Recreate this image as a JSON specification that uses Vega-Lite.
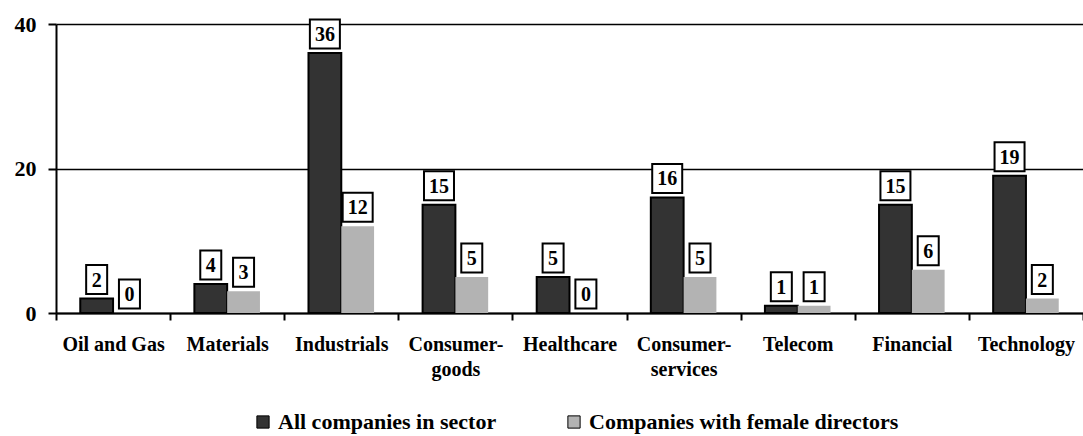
{
  "$schema": "https://vega.github.io/schema/vega-lite/v6.json",
  "width": 1027,
  "height": 289,
  "autosize": {"type": "none"},
  "padding": {"left": 56, "top": 24, "right": 0, "bottom": 123},
  "config": {
    "view": {"stroke": null},
    "font": "Liberation Serif",
    "axis": {"labelFont": "Liberation Serif", "labelFontWeight": "bold", "labelColor": "black", "title": null}
  },
  "data": {
    "values": [
      {"sector": "Oil and Gas", "series": "All companies in sector", "count": 2},
      {"sector": "Oil and Gas", "series": "Companies with female directors", "count": 0},
      {"sector": "Materials", "series": "All companies in sector", "count": 4},
      {"sector": "Materials", "series": "Companies with female directors", "count": 3},
      {"sector": "Industrials", "series": "All companies in sector", "count": 36},
      {"sector": "Industrials", "series": "Companies with female directors", "count": 12},
      {"sector": "Consumer-goods", "series": "All companies in sector", "count": 15},
      {"sector": "Consumer-goods", "series": "Companies with female directors", "count": 5},
      {"sector": "Healthcare", "series": "All companies in sector", "count": 5},
      {"sector": "Healthcare", "series": "Companies with female directors", "count": 0},
      {"sector": "Consumer-services", "series": "All companies in sector", "count": 16},
      {"sector": "Consumer-services", "series": "Companies with female directors", "count": 5},
      {"sector": "Telecom", "series": "All companies in sector", "count": 1},
      {"sector": "Telecom", "series": "Companies with female directors", "count": 1},
      {"sector": "Financial", "series": "All companies in sector", "count": 15},
      {"sector": "Financial", "series": "Companies with female directors", "count": 6},
      {"sector": "Technology", "series": "All companies in sector", "count": 19},
      {"sector": "Technology", "series": "Companies with female directors", "count": 2}
    ]
  },
  "encoding": {
    "x": {
      "field": "sector",
      "type": "nominal",
      "sort": null,
      "scale": {"paddingInner": 0, "paddingOuter": 0},
      "axis": {
        "labelAngle": 0,
        "labelFontSize": 20,
        "labelPadding": 14,
        "labelLineHeight": 25,
        "labelExpr": "datum.value == 'Consumer-goods' ? ['Consumer-', 'goods'] : datum.value == 'Consumer-services' ? ['Consumer-', 'services'] : datum.value",
        "tickBand": "extent",
        "ticks": true,
        "tickSize": 7,
        "tickWidth": 2,
        "tickColor": "black",
        "domainColor": "black",
        "domainWidth": 2,
        "grid": false
      }
    },
    "xOffset": {
      "field": "series",
      "type": "nominal",
      "sort": ["All companies in sector", "Companies with female directors"],
      "scale": {"paddingInner": 0, "paddingOuter": 0.74}
    },
    "y": {
      "field": "count",
      "type": "quantitative",
      "scale": {"domain": [0, 40], "nice": false},
      "axis": {
        "values": [0, 20, 40],
        "labelFontSize": 22,
        "labelPadding": 12,
        "tickSize": 8,
        "tickWidth": 2,
        "tickColor": "black",
        "domainColor": "black",
        "domainWidth": 2,
        "grid": true,
        "gridColor": "black",
        "gridWidth": 1.5,
        "gridOpacity": 1
      }
    }
  },
  "layer": [
    {
      "mark": {"type": "bar", "stroke": "black"},
      "encoding": {
        "color": {
          "field": "series",
          "type": "nominal",
          "scale": {
            "domain": ["All companies in sector", "Companies with female directors"],
            "range": ["#333333", "#b3b3b3"]
          },
          "legend": {
            "orient": "none",
            "legendX": 196,
            "legendY": 387,
            "direction": "horizontal",
            "title": null,
            "labelFont": "Liberation Serif",
            "labelFontWeight": "bold",
            "labelFontSize": 22,
            "labelColor": "black",
            "labelLimit": 1000,
            "labelOffset": 4,
            "symbolType": "square",
            "symbolSize": 150,
            "symbolStrokeColor": "black",
            "symbolStrokeWidth": 1,
            "columnPadding": 66
          }
        },
        "strokeWidth": {
          "condition": {"test": "datum.series === 'All companies in sector'", "value": 2},
          "value": 0
        }
      }
    },
    {
      "mark": {
        "type": "point",
        "filled": true,
        "fill": "white",
        "stroke": "black",
        "strokeWidth": 2,
        "opacity": 1,
        "size": 100,
        "yOffset": -19
      },
      "encoding": {
        "shape": {
          "condition": {"test": "datum.count >= 10", "value": "M-3,-2.9H3V2.9H-3Z"},
          "value": "M-2.1,-2.9H2.1V2.9H-2.1Z"
        }
      }
    },
    {
      "mark": {
        "type": "text",
        "font": "Liberation Serif",
        "fontWeight": "bold",
        "fontSize": 20,
        "color": "black",
        "baseline": "middle",
        "align": "center",
        "yOffset": -18
      },
      "encoding": {
        "text": {"field": "count", "type": "quantitative"}
      }
    }
  ]
}
